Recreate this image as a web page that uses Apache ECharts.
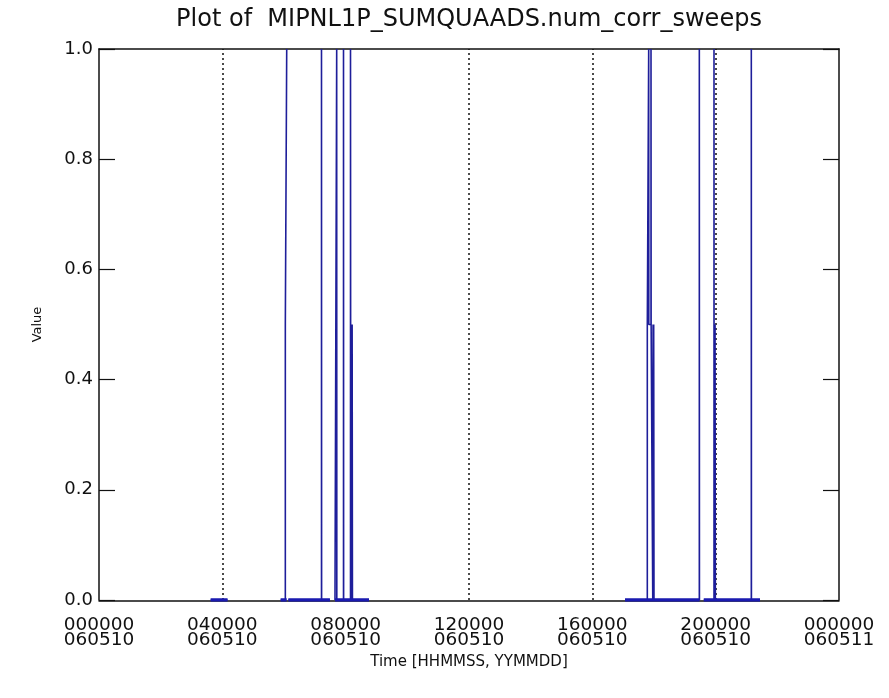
<!DOCTYPE html>
<html>
<head>
<meta charset="utf-8">
<script src="https://cdn.jsdelivr.net/npm/echarts@6/dist/echarts.min.js"></script>
<style>
html,body{margin:0;padding:0;background:#fff;}
#chart{width:889px;height:698px;}
</style>
</head>
<body>
<div id="chart"></div>
<script>
// Time in hours since 000000 060510; null = data gap
const tickHours = [0, 4, 8, 12, 16, 20, 24];
const tickLabels = ['000000\n060510','040000\n060510','080000\n060510','120000\n060510','160000\n060510','200000\n060510','000000\n060511'];
const markerHours = [4, 12, 16, 20];

const segA = [[3.62,0],[4.17,0]];
const segB = [[5.89,0],[6.043,0],[6.043,0.5],[6.088,0.5],[6.088,1.0]];
const segC = [[6.14,0],[7.216,0],[7.216,1.0],[7.220,1.0],[7.220,0],[7.49,0]];
const segD = [[7.654,0],[7.709,0],[7.709,1.0],[7.713,1.0],[7.713,0],
              [7.930,0],[7.930,1.0],[7.934,1.0],[7.934,0],
              [8.157,0],[8.157,1.0],[8.161,1.0],[8.161,0.5],[8.180,0.5],[8.180,0],
              [8.190,0],[8.190,0.5],[8.200,0.5],[8.200,0],[8.210,0],[8.210,0.5],[8.220,0.5],[8.220,0],[8.757,0]];
const segE = [[17.06,0],[17.783,0],[17.783,0.5],[17.828,0.5],[17.828,1.0],[17.832,1.0],[17.832,0.5],
              [17.903,0.5],[17.903,1.0],[17.907,1.0],[17.907,0.5],[17.960,0.5],[17.960,0],
              [17.970,0],[17.970,0.5],[17.980,0.5],[17.980,0],[17.990,0],[17.990,0.5],[18.000,0.5],[18.000,0],
              [19.470,0],[19.470,1.0],[19.474,1.0],[19.474,0]];
const segF = [[19.614,0],[19.946,0],[19.946,1.0],[19.950,1.0],[19.950,0],
              [19.960,0],[19.960,0.5],[19.970,0.5],[19.970,0],[19.980,0],[19.980,0.5],[19.990,0.5],[19.990,0],
              [21.156,0],[21.156,1.0],[21.160,1.0],[21.160,0],[21.438,0]];

const segments = [segA, segB, segC, segD, segE, segF];
const lineData = [];
const baseData = [];
segments.forEach((s, i) => {
  if (i) { lineData.push([null, null]); baseData.push([null, null]); }
  s.forEach(p => lineData.push(p));
  baseData.push([s[0][0], 0], [s[s.length - 1][0], 0]);
});

const FONT = 'DejaVu Sans';
const chart = echarts.init(document.getElementById('chart'), null, {renderer: 'canvas'});
chart.setOption({
  animation: false,
  backgroundColor: '#fff',
  title: {
    text: 'Plot of  MIPNL1P_SUMQUAADS.num_corr_sweeps',
    left: 464, top: 3, textAlign: 'center',
    textStyle: {fontFamily: FONT, fontSize: 24, fontWeight: 'normal', color: '#111'}
  },
  grid: {left: 99, right: 50, top: 49, bottom: 98, containLabel: false},
  xAxis: [{
    type: 'value', min: 0, max: 24, interval: 4, position: 'bottom', z: 0, offset: 1,
    name: 'Time [HHMMSS, YYMMDD]', nameLocation: 'middle', nameGap: 54,
    nameTextStyle: {fontFamily: FONT, fontSize: 15, color: '#111'},
    axisLine: {show: true, onZero: false, lineStyle: {color: '#111', width: 1.5}},
    axisTick: {show: false},
    splitLine: {show: false},
    axisLabel: {
      fontFamily: FONT, fontSize: 18.5, color: '#111', margin: 17, lineHeight: 15,
      formatter: v => { const i = tickHours.indexOf(v); return i >= 0 ? tickLabels[i] : ''; }
    }
  }, {
    type: 'value', min: 0, max: 24, interval: 4, position: 'top', z: 0,
    axisLine: {show: true, onZero: false, lineStyle: {color: '#111', width: 1.5}},
    axisTick: {show: false}, axisLabel: {show: false}, splitLine: {show: false}
  }],
  yAxis: [{
    type: 'value', min: 0, max: 1, interval: 0.2, position: 'left', z: 0,
    name: 'Value', nameLocation: 'middle', nameGap: 55, nameRotate: 90,
    nameTextStyle: {fontFamily: FONT, fontSize: 13, color: '#111'},
    axisLine: {show: true, onZero: false, lineStyle: {color: '#111', width: 1.5}},
    axisTick: {show: true, inside: true, length: 16, lineStyle: {color: '#111', width: 1.2}},
    splitLine: {show: false},
    axisLabel: {fontFamily: FONT, fontSize: 18, color: '#111', margin: 6, padding: [0, 0, 14, 0],
      formatter: v => v.toFixed(1)}
  }, {
    type: 'value', min: 0, max: 1, interval: 0.2, position: 'right', z: 0,
    axisLine: {show: true, onZero: false, lineStyle: {color: '#111', width: 1.5}},
    axisTick: {show: true, inside: true, length: 16, lineStyle: {color: '#111', width: 1.2}},
    axisLabel: {show: false}, splitLine: {show: false}
  }],
  series: [{
    type: 'line', xAxisIndex: 0, yAxisIndex: 0,
    data: lineData, showSymbol: false, connectNulls: false, z: 3,
    lineStyle: {color: '#1e1e9a', width: 1.6},
    markLine: {
      silent: true, symbol: ['none', 'none'], label: {show: false}, z: 1,
      lineStyle: {color: '#111', type: [2, 3], width: 1.5},
      data: markerHours.map(h => ({xAxis: h}))
    }
  }, {
    type: 'line', xAxisIndex: 0, yAxisIndex: 0,
    data: baseData, showSymbol: false, connectNulls: false, z: 3,
    lineStyle: {color: '#1a1ab0', width: 3.5}
  }]
});
</script>
</body>
</html>
